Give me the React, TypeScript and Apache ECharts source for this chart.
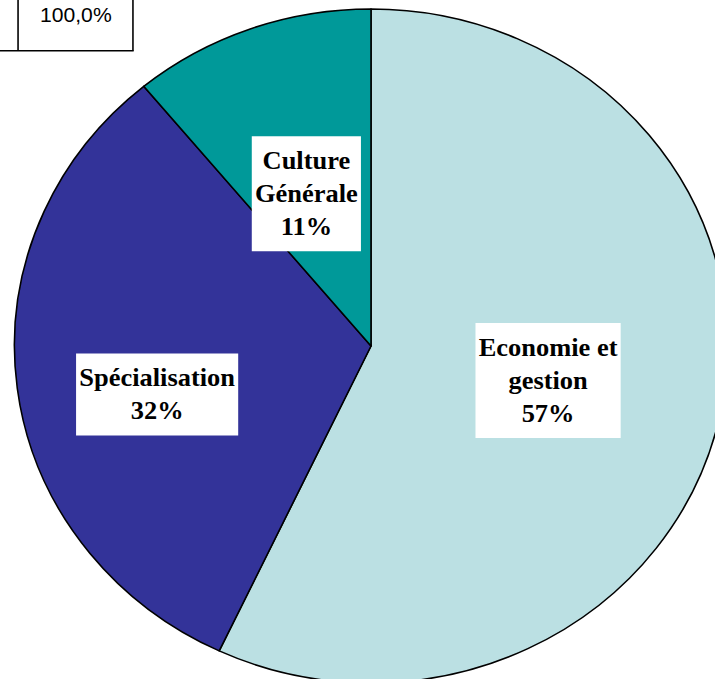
import React, { useEffect, useRef } from "react";
import * as echarts from "echarts";

// Data
const categories = ["Economie et gestion", "Spécialisation", "Culture Générale"];
const shares = [57, 32, 11];
const sliceColors = ["#BBE0E3", "#333399", "#009999"];
const tableTotal = "100,0%";

const STRETCH = 1.058; // the reference pie is horizontally stretched
const SERIF = "'Liberation Serif', 'Times New Roman', serif";
const SANS = "'Liberation Sans', Arial, sans-serif";

export default function App() {
  const ref = useRef<HTMLDivElement>(null);

  useEffect(() => {
    if (!ref.current) return;
    const chart = echarts.init(ref.current, undefined, { renderer: "svg" });
    const labelOffsets = [
      [0, -3],
      [-32, 27],
      [-3, 9],
    ];
    chart.setOption({
      animation: false,
      backgroundColor: "#ffffff",
      graphic: [
        {
          type: "line",
          shape: { x1: 37.4, y1: 0, x2: 37.4, y2: 50.7 },
          style: { stroke: "#000", lineWidth: 1.5 },
        },
        {
          type: "line",
          shape: { x1: 146, y1: 0, x2: 146, y2: 50.7 },
          style: { stroke: "#000", lineWidth: 1.5 },
        },
        {
          type: "line",
          shape: { x1: 0, y1: 50.7, x2: 146.7, y2: 50.7 },
          style: { stroke: "#000", lineWidth: 1.5 },
        },
        {
          type: "text",
          x: 92,
          y: 15,
          style: {
            text: tableTotal,
            font: `20px ${SANS}`,
            fill: "#000",
            align: "center",
            verticalAlign: "middle",
          },
        },
      ],
      series: [
        {
          type: "pie",
          center: [371, 346],
          radius: 337,
          startAngle: 90,
          clockwise: true,
          silent: true,
          avoidLabelOverlap: false,
          itemStyle: { borderColor: "#000", borderWidth: 1.5 },
          label: {
            show: true,
            position: "inside",
            formatter: (p: any) =>
              `${String(p.name).replace(/ (\S+)$/, "\n$1")}\n${Math.round(p.percent)}%`,
            fontFamily: SERIF,
            fontSize: 25,
            fontWeight: "bold",
            color: "#000",
            backgroundColor: "#ffffff",
            padding: [8, 3],
            lineHeight: 33,
            align: "center",
          },
          labelLine: { show: false },
          labelLayout: (params: any) => ({
            dx: labelOffsets[params.dataIndex][0],
            dy: labelOffsets[params.dataIndex][1],
          }),
          emphasis: { disabled: true },
          data: categories.map((name, i) => ({
            name,
            value: shares[i],
            itemStyle: { color: sliceColors[i] },
          })),
        },
      ],
    });
    return () => chart.dispose();
  }, []);

  return (
    <div
      style={{
        position: "fixed",
        left: 0,
        top: 0,
        width: 715,
        height: 679,
        overflow: "hidden",
        background: "#fff",
      }}
    >
      <div
        ref={ref}
        style={{
          width: 715,
          height: 679,
          transform: `scaleX(${STRETCH})`,
          transformOrigin: "371px 0px",
        }}
      />
    </div>
  );
}
